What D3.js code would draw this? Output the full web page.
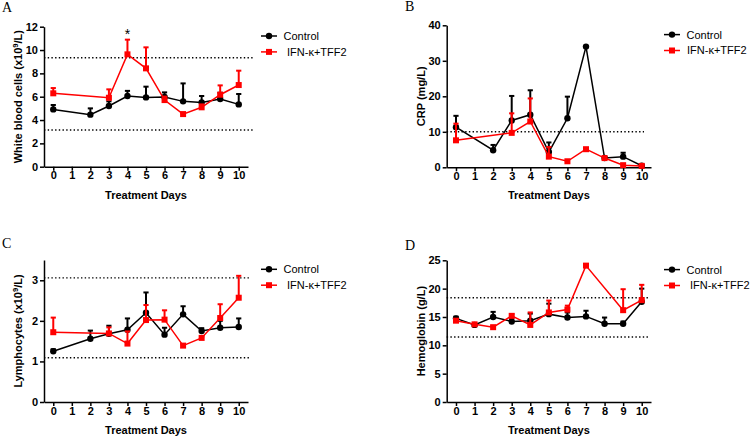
<!DOCTYPE html>
<meta charset="utf-8">
<style>
    body { margin: 0; background: #fff; }
    svg { font-family: "Liberation Sans", Arial, sans-serif; }
    .axis path, .axis line { stroke: #000; stroke-width: 1.5px; }
    .axis text { font-size: 11px; font-weight: bold; fill: #000; }
    .ref { stroke: #000; stroke-width: 1.4px; stroke-dasharray: 1.4, 2.3; }
</style>
<body>
<script src="https://cdn.jsdelivr.net/npm/d3@7/dist/d3.min.js"></script>
<script>
    // shared
    const dayTicks = [0, 1, 2, 3, 4, 5, 6, 7, 8, 9, 10];
    const seriesNames = ["Control", "IFN-κ+TFF2"];

    // A - white blood cells (x10^9/L), mean and upper error
    const wbcCtrlDays = [0, 2, 3, 4, 5, 6, 7, 8, 9, 10];
    const wbcCtrl = [4.91, 4.46, 5.2, 6.06, 5.94, 5.97, 5.6, 5.51, 5.8, 5.34];
    const wbcCtrlErr = [0.38, 0.54, 0.4, 0.44, 0.92, 0.4, 1.54, 0.55, 0.54, 0.89];
    const wbcIfnDays = [0, 3, 4, 5, 6, 7, 8, 9, 10];
    const wbcIfn = [6.29, 5.91, 9.63, 8.43, 5.71, 4.51, 5.09, 6.17, 7.0];
    const wbcIfnErr = [0.45, 0.72, 1.26, 1.8, 0.3, 0.1, 0.25, 0.8, 1.23];
    const wbcRef = [3.14, 9.34];

    // B - CRP (mg/L)
    const crpCtrlDays = [0, 2, 3, 4, 5, 6, 7, 8, 9, 10];
    const crpCtrl = [11.3, 4.8, 13.2, 14.8, 4.3, 13.8, 34.0, 2.6, 3.0, 0.45];
    const crpCtrlErr = [3.2, 1.5, 6.9, 6.9, 2.7, 6.1, 0, 0.3, 1.1, 0.3];
    const crpIfnDays = [0, 3, 4, 5, 6, 7, 8, 9, 10];
    const crpIfn = [7.6, 9.7, 12.9, 3.0, 1.7, 5.1, 2.6, 0.6, 0.4];
    const crpIfnErr = [4.7, 5.5, 6.5, 2.7, 0.3, 0.3, 0.2, 0.3, 0.2];
    const crpRef = [10];

    // C - lymphocytes (x10^9/L)
    const lymCtrlDays = [0, 2, 3, 4, 5, 6, 7, 8, 9, 10];
    const lymCtrl = [1.25, 1.56, 1.68, 1.78, 2.2, 1.66, 2.16, 1.75, 1.83, 1.85];
    const lymCtrlErr = [0.05, 0.2, 0.2, 0.28, 0.5, 0.17, 0.2, 0.07, 0.17, 0.21];
    const lymIfnDays = [0, 3, 4, 5, 6, 7, 8, 9, 10];
    const lymIfn = [1.72, 1.69, 1.44, 2.02, 2.03, 1.39, 1.58, 2.07, 2.57];
    const lymIfnErr = [0.36, 0.15, 0.3, 0.37, 0.23, 0.03, 0.03, 0.34, 0.54];
    const lymRef = [1.09, 3.06];

    // D - hemoglobin (g/L)
    const hgbCtrlDays = [0, 1, 2, 3, 4, 5, 6, 7, 8, 9, 10];
    const hgbCtrl = [14.76, 13.6, 15.0, 14.2, 14.35, 15.5, 14.9, 15.1, 13.8, 13.8, 17.7];
    const hgbCtrlErr = [0.3, 0.2, 0.9, 0.6, 1.25, 1.85, 0.9, 1.0, 1.1, 0.4, 2.3];
    const hgbIfnDays = [0, 1, 2, 3, 4, 5, 6, 7, 9, 10];
    const hgbIfn = [14.35, 13.7, 13.2, 15.2, 13.6, 15.8, 16.3, 24.06, 16.2, 17.97];
    const hgbIfnErr = [0.2, 0.2, 0.2, 0.3, 2.2, 2.1, 0.7, 0.2, 3.7, 2.7];
    const hgbRef = [11.47, 18.4];

    const zip = (days, mean, err) => days.map((d, i) => ({ day: d, v: mean[i], e: err[i] }));

    const panels = [
        {
            letter: "A", lx: 2, ly: 11.5, left: 44, right: 248, top: 26.7, bottom: 166.7,
            yMax: 12, yTicks: [0, 2, 4, 6, 8, 10, 12], yTitle: ["White blood cells (x10", "9", "/L)"],
            ref: wbcRef, refEnd: 253, ifnDx: 26,
            ctrl: zip(wbcCtrlDays, wbcCtrl, wbcCtrlErr), ifn: zip(wbcIfnDays, wbcIfn, wbcIfnErr),
            star: 4
        },
        {
            letter: "B", lx: 405, ly: 11, left: 446.7, right: 651, top: 25.3, bottom: 167.3,
            yMax: 40, yTicks: [0, 10, 20, 30, 40], yTitle: ["CRP (mg/L)"],
            ref: crpRef, refEnd: 644, ifnDx: 23,
            ctrl: zip(crpCtrlDays, crpCtrl, crpCtrlErr), ifn: zip(crpIfnDays, crpIfn, crpIfnErr)
        },
        {
            letter: "C", lx: 2, ly: 248, left: 44, right: 248, top: 260, bottom: 402,
            yMax: 3.5, yTicks: [0, 1, 2, 3], yTitle: ["Lymphocytes (x10", "9", "/L)"],
            ref: lymRef, refEnd: 250, ifnDx: 26,
            ctrl: zip(lymCtrlDays, lymCtrl, lymCtrlErr), ifn: zip(lymIfnDays, lymIfn, lymIfnErr)
        },
        {
            letter: "D", lx: 405, ly: 250, left: 446.7, right: 651, top: 260.3, bottom: 402,
            yMax: 25, yTicks: [0, 5, 10, 15, 20, 25], yTitle: ["Hemoglobin (g/L)"],
            ref: hgbRef, refEnd: 649, ifnDx: 26,
            ctrl: zip(hgbCtrlDays, hgbCtrl, hgbCtrlErr), ifn: zip(hgbIfnDays, hgbIfn, hgbIfnErr)
        }
    ];

    const svg = d3.select("body").append("svg")
        .attr("width", 750)
        .attr("height", 437);

    const RED = "#f00";

    function drawPanel(p) {
        const g = svg.append("g");
        const x = d3.scaleLinear().domain([-0.5, 10.5]).range([p.left, p.right]);
        const y = d3.scaleLinear().domain([0, p.yMax]).range([p.bottom, p.top]);

        g.append("text")
            .attr("x", p.lx).attr("y", p.ly)
            .style("font-family", "'Liberation Serif', 'Times New Roman', serif")
            .style("font-size", "14px")
            .text(p.letter);

        // reference ranges
        g.selectAll(".ref").data(p.ref).enter().append("line")
            .attr("class", "ref")
            .attr("x1", p.left).attr("x2", p.refEnd)
            .attr("y1", d => y(d)).attr("y2", d => y(d));

        g.append("g").attr("class", "axis")
            .attr("transform", "translate(" + p.left + ",0)")
            .call(d3.axisLeft(y).tickValues(p.yTicks).tickSize(4).tickSizeOuter(0).tickPadding(2).tickFormat(d3.format("d")));

        g.append("g").attr("class", "axis")
            .attr("transform", "translate(0," + p.bottom + ")")
            .call(d3.axisBottom(x).tickValues(dayTicks).tickSize(4).tickSizeOuter(0).tickPadding(1).tickFormat(d3.format("d")));

        g.append("text")
            .attr("x", (p.left + p.right) / 2).attr("y", p.bottom + 32)
            .attr("text-anchor", "middle")
            .style("font-size", "11px").style("font-weight", "bold")
            .text("Treatment Days");

        const yt = g.append("text")
            .attr("transform", "translate(" + (p.left - 22) + "," + ((p.top + p.bottom) / 2) + ") rotate(-90)")
            .attr("text-anchor", "middle")
            .style("font-size", "11px").style("font-weight", "bold");
        yt.append("tspan").text(p.yTitle[0]);
        if (p.yTitle.length > 1) {
            yt.append("tspan").attr("dy", -4).style("font-size", "7.5px").text(p.yTitle[1]);
            yt.append("tspan").attr("dy", 4).text(p.yTitle[2]);
        }

        const line = d3.line().x(d => x(d.day)).y(d => y(d.v));

        [["ctrl", "#000"], ["ifn", RED]].forEach(([key, col]) => {
            const data = p[key];
            const s = g.append("g");
            // upper error bars
            const eb = s.selectAll(".eb").data(data.filter(d => d.e > 0)).enter().append("g");
            eb.append("line")
                .attr("x1", d => x(d.day)).attr("x2", d => x(d.day))
                .attr("y1", d => y(d.v)).attr("y2", d => y(d.v + d.e))
                .attr("stroke", col).attr("stroke-width", 2);
            eb.append("line")
                .attr("x1", d => x(d.day) - 2.6).attr("x2", d => x(d.day) + 2.6)
                .attr("y1", d => y(d.v + d.e)).attr("y2", d => y(d.v + d.e))
                .attr("stroke", col).attr("stroke-width", 2);

            s.append("path").datum(data)
                .attr("d", line)
                .attr("fill", "none")
                .attr("stroke", col)
                .attr("stroke-width", 1.5);

            if (key === "ctrl") {
                s.selectAll("circle").data(data).enter().append("circle")
                    .attr("cx", d => x(d.day)).attr("cy", d => y(d.v))
                    .attr("r", 3.2).attr("fill", col);
            } else {
                s.selectAll("rect").data(data).enter().append("rect")
                    .attr("x", d => x(d.day) - 3).attr("y", d => y(d.v) - 3)
                    .attr("width", 6).attr("height", 6).attr("fill", col);
            }
        });

        if (p.star !== undefined) {
            g.append("text")
                .attr("x", x(p.star)).attr("y", p.top + 12)
                .attr("text-anchor", "middle")
                .style("font-size", "14px")
                .text("*");
        }

        // legend
        const lg = g.append("g").attr("transform", "translate(" + (p.right + 13) + "," + p.top + ")");
        const items = [
            { label: seriesNames[0], col: "#000", dy: 9.3, dx: 22.5, shape: "circle" },
            { label: seriesNames[1], col: RED, dy: 25.2, dx: p.ifnDx, shape: "rect" }
        ];
        items.forEach(it => {
            lg.append("line")
                .attr("x1", 0).attr("x2", 16)
                .attr("y1", it.dy).attr("y2", it.dy)
                .attr("stroke", it.col).attr("stroke-width", 1.5);
            if (it.shape === "circle") {
                lg.append("circle").attr("cx", 8).attr("cy", it.dy).attr("r", 3.2).attr("fill", it.col);
            } else {
                lg.append("rect").attr("x", 5).attr("y", it.dy - 3).attr("width", 6).attr("height", 6).attr("fill", it.col);
            }
            lg.append("text")
                .attr("x", it.dx).attr("y", it.dy + 4)
                .style("font-size", "11px")
                .text(it.label);
        });
    }

    panels.forEach(drawPanel);
</script>
</body>
